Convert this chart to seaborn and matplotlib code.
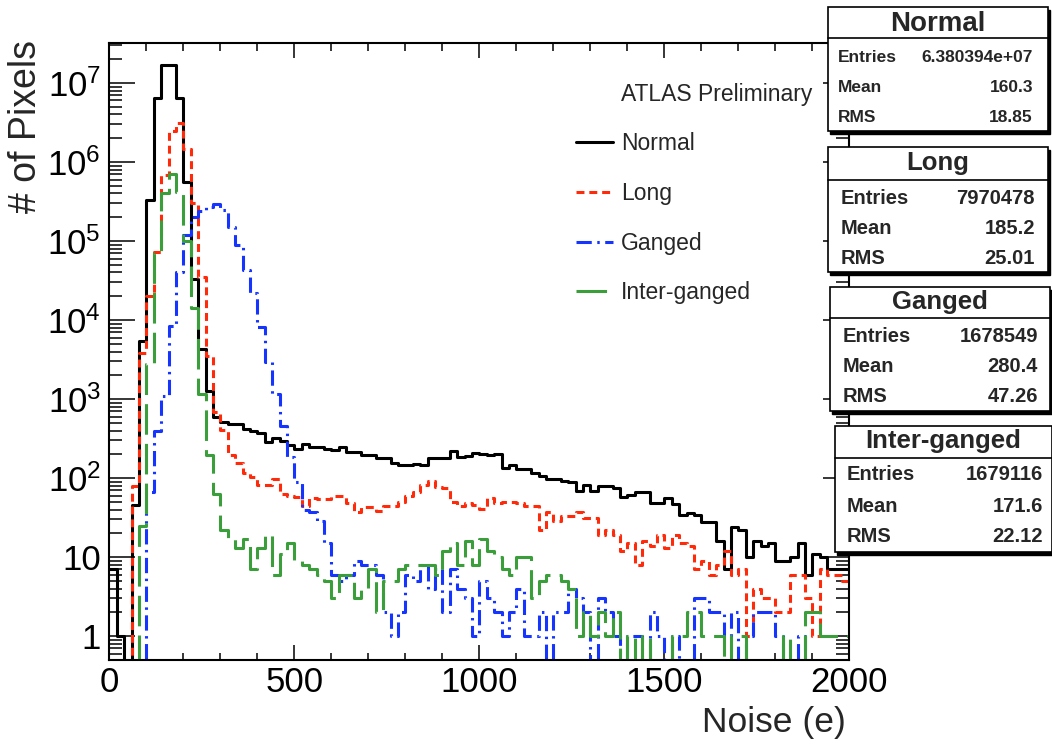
import numpy as np
import pandas as pd
import matplotlib
matplotlib.use("Agg")
import matplotlib.pyplot as plt
import seaborn as sns
from matplotlib.patches import Rectangle
from matplotlib.lines import Line2D
from matplotlib.ticker import MultipleLocator, LogLocator, FuncFormatter, NullFormatter

# ---------------- data ----------------
bin_width = 20
x_range = (0, 2000)
series_names = ["Normal", "Long", "Ganged", "Inter-ganged"]

normal_counts = [7, 1, 0, 46, 5400, 330000, 6500000, 17000000, 17000000, 6500000,
                 560000, 33000, 4300, 1250, 590, 510, 490, 490, 415, 400,
                 370, 290, 320, 295, 260, 235, 270, 245, 245, 235,
                 230, 250, 215, 215, 195, 195, 178, 178, 155, 148,
                 148, 150, 145, 182, 178, 178, 218, 186, 190, 209,
                 200, 195, 200, 135, 145, 132, 132, 115, 105, 98,
                 98, 91, 89, 69, 83, 69, 79, 79, 74, 58,
                 62, 66, 66, 48, 49, 56, 47, 34, 36, 34,
                 28, 28, 16, 7, 24, 22, 10, 16, 14, 15,
                 9, 9, 10, 15, 6, 11, 10, 7, 7, 7]

long_counts = [0, 0, 0, 80, 3800, 20000, 72000, 680000, 2500000, 3100000,
               1450000, 300000, 35000, 3500, 690, 410, 195, 155, 115, 102,
               83, 83, 98, 63, 60, 58, 45, 56, 55, 55,
               60, 60, 48, 37, 43, 43, 38, 45, 45, 50,
               59, 66, 83, 91, 78, 76, 50, 45, 48, 46,
               41, 56, 48, 50, 50, 48, 45, 45, 22, 37,
               29, 33, 33, 37, 31, 31, 19, 22, 19, 12,
               15, 8, 16, 14, 19, 13, 19, 15, 14, 7,
               9, 6, 8, 12, 6, 7, 1, 4, 3, 3,
               2, 2, 6, 6, 3, 1, 7, 6, 6, 5]

ganged_counts = [0, 0, 0, 0, 0, 66, 400, 1100, 8300, 40000,
                 120000, 200000, 240000, 270000, 290000, 250000, 150000, 90000, 43000, 22000,
                 8100, 2950, 1170, 450, 186, 89, 39, 37, 29, 15,
                 6, 5, 6, 9, 8, 8, 6, 2, 1, 2,
                 6, 5, 8, 4, 7, 2, 7, 4, 3, 1,
                 5, 3, 2, 1, 2, 4, 1, 1, 2, 0,
                 2, 2, 4, 3, 2, 0, 3, 2, 1, 0,
                 1, 1, 0, 2, 1, 0, 1, 0, 0, 3,
                 3, 2, 2, 1, 2, 0, 1, 2, 2, 2,
                 1, 0, 0, 1, 0, 0, 0, 0, 0, 0]

inter_counts = [0, 0, 0, 0, 25, 2800, 70000, 400000, 700000, 420000,
                100000, 14000, 1170, 195, 63, 22, 17, 13, 17, 7,
                13, 19, 6, 11, 15, 9, 8, 7, 6, 5,
                3, 6, 6, 3, 4, 7, 2, 5, 5, 7,
                8, 8, 8, 8, 6, 12, 15, 8, 16, 8,
                17, 12, 10, 7, 6, 10, 10, 3, 5, 6,
                6, 5, 4, 1, 2, 1, 2, 1, 2, 0,
                1, 0, 1, 0, 0, 0, 1, 1, 2, 2,
                1, 1, 1, 0, 1, 1, 0, 0, 0, 0,
                0, 1, 0, 0, 2, 2, 1, 1, 1, 1]

stat_entries = ["6.380394e+07", "7970478", "1678549", "1679116"]
stat_means = ["160.3", "185.2", "280.4", "171.6"]
stat_rms = ["18.85", "25.01", "47.26", "22.12"]

x_label = "Noise (e)"
y_label = "# of Pixels"
header_text = "ATLAS Preliminary"

# ---------------- style ----------------
sns.set_style("ticks")
plt.rcParams["font.family"] = ["Liberation Sans", "DejaVu Sans"]
plt.rcParams["mathtext.fontset"] = "custom"
plt.rcParams["mathtext.rm"] = "Liberation Sans"
plt.rcParams["mathtext.it"] = "Liberation Sans:italic"
plt.rcParams["mathtext.bf"] = "Liberation Sans:bold"

W_PX, H_PX = 1052, 744
fig = plt.figure(figsize=(W_PX / 100, H_PX / 100), dpi=100)
fig.patch.set_facecolor("white")

def fx(px):
    return px / W_PX

def fy(py):
    return 1 - py / H_PX

ax_l, ax_r, ax_t, ax_b = 109.3, 849.3, 43, 660
ax = fig.add_axes([fx(ax_l), fy(ax_b), fx(ax_r) - fx(ax_l), fy(ax_t) - fy(ax_b)])
ax.set_facecolor("white")

colors = {"Normal": "#000000", "Long": "#ff2a0a", "Ganged": "#1535ff", "Inter-ganged": "#3a9e3a"}
styles = {"Normal": "-",
          "Long": (0, (2.6, 1.6)),
          "Ganged": (0, (5, 1.8, 0.8, 1.8)),
          "Inter-ganged": (0, (10, 3))}

rows = []
for name, counts in zip(series_names, [normal_counts, long_counts, ganged_counts, inter_counts]):
    for i, c in enumerate(counts):
        rows.append({"series": name, "noise": x_range[0] + bin_width * i + bin_width / 2,
                     "count": float(c)})
df = pd.DataFrame(rows)

for name in series_names:
    sub = df[df["series"] == name].reset_index(drop=True)
    sns.histplot(data=sub, x="noise", weights="count", binwidth=bin_width,
                 binrange=x_range, element="step", fill=False, color=colors[name],
                 linewidth=2.2, linestyle=styles[name], ax=ax, label=name)

ax.set_yscale("log", nonpositive="clip")
ax.set_xlim(*x_range)
ax.set_ylim(0.5, 3.2e7)

# ticks (ROOT style)
ax.xaxis.set_major_locator(MultipleLocator(500))
ax.xaxis.set_minor_locator(MultipleLocator(100))
ax.yaxis.set_major_locator(LogLocator(base=10, numticks=20))
ax.yaxis.set_minor_locator(LogLocator(base=10, subs=np.arange(2, 10), numticks=20))
ax.yaxis.set_minor_formatter(NullFormatter())
ax.xaxis.get_offset_text().set_visible(False)
ax.yaxis.get_offset_text().set_visible(False)

def ylab(v, pos):
    e = int(round(np.log10(v)))
    if e == 0:
        return "1"
    if e == 1:
        return "10"
    return r"$\mathregular{10^{%d}}$" % e

ax.yaxis.set_major_formatter(FuncFormatter(ylab))
ax.tick_params(which="both", direction="in", top=True, right=True, width=1.1, colors="black")
ax.tick_params(axis="y", which="major", length=18.7, pad=6, labelsize=25)
ax.tick_params(axis="y", which="minor", length=9.4)
ax.tick_params(axis="x", which="major", length=10.8, pad=4, labelsize=25)
ax.tick_params(axis="x", which="minor", length=5.4)
for sp in ax.spines.values():
    sp.set_visible(True)
    sp.set_linewidth(1.5)
    sp.set_color("black")

ax.set_xlabel(x_label, fontsize=25.5, loc="right")
ax.xaxis.set_label_coords(0.995, -0.075)
ax.set_ylabel(y_label, fontsize=27, loc="top")
ax.yaxis.set_label_coords(-0.088, 1.005)

# legend (no frame, ROOT TLegend look)
handles, labels = ax.get_legend_handles_labels()
leg = fig.legend(handles, labels, loc="upper left",
                 bbox_to_anchor=(fx(576), fy(132)), frameon=False,
                 fontsize=16.5, handlelength=1.6, handletextpad=0.35,
                 labelspacing=1.17, borderpad=0, borderaxespad=0)
fig.text(fx(621), fy(94), header_text, fontsize=16.5, ha="left", va="center")

# stat boxes
boxes = [
    dict(x0=828, x1=1048, y0=7, y1=131, ydiv=38, ty=24, ry=[57, 88, 117], lx=838, rx=1033, tfs=20, fs=12.5),
    dict(x0=828, x1=1048, y0=147, y1=272, ydiv=180, ty=163, ry=[198, 229, 259], lx=841, rx=1035, tfs=18.5, fs=14.5),
    dict(x0=830, x1=1050, y0=287, y1=411, ydiv=318, ty=302, ry=[336, 367, 397], lx=843, rx=1038, tfs=18.5, fs=14.5),
    dict(x0=835, x1=1052, y0=426, y1=552, ydiv=458, ty=441, ry=[475, 507, 537], lx=847, rx=1043, tfs=18.5, fs=14.5),
]
for b, name, ent, mean, rms in zip(boxes, series_names, stat_entries, stat_means, stat_rms):
    shadow = Rectangle((fx(b["x0"] + 2), fy(b["y1"] + 3)), fx(b["x1"]) - fx(b["x0"]),
                       fy(b["y0"]) - fy(b["y1"]), transform=fig.transFigure,
                       facecolor="black", edgecolor="black", zorder=10)
    fig.add_artist(shadow)
    rect = Rectangle((fx(b["x0"]), fy(b["y1"])), fx(b["x1"]) - fx(b["x0"]),
                     fy(b["y0"]) - fy(b["y1"]), transform=fig.transFigure,
                     facecolor="white", edgecolor="black", linewidth=1.2, zorder=11)
    fig.add_artist(rect)
    fig.add_artist(Line2D([fx(b["x0"]), fx(b["x1"])], [fy(b["ydiv"]), fy(b["ydiv"])],
                          transform=fig.transFigure, color="black", linewidth=1.2, zorder=12))
    fig.text(fx((b["x0"] + b["x1"]) / 2), fy(b["ty"]), name, fontsize=b["tfs"],
             fontweight="bold", ha="center", va="center", zorder=13)
    for yy, lab, val in zip(b["ry"], ["Entries", "Mean", "RMS"], [ent, mean, rms]):
        fig.text(fx(b["lx"]), fy(yy), lab, fontsize=b["fs"], fontweight="bold",
                 ha="left", va="center", zorder=13)
        fig.text(fx(b["rx"]), fy(yy), val, fontsize=b["fs"], fontweight="bold",
                 ha="right", va="center", zorder=13)

fig.savefig("out.png", dpi=100, facecolor="white")
